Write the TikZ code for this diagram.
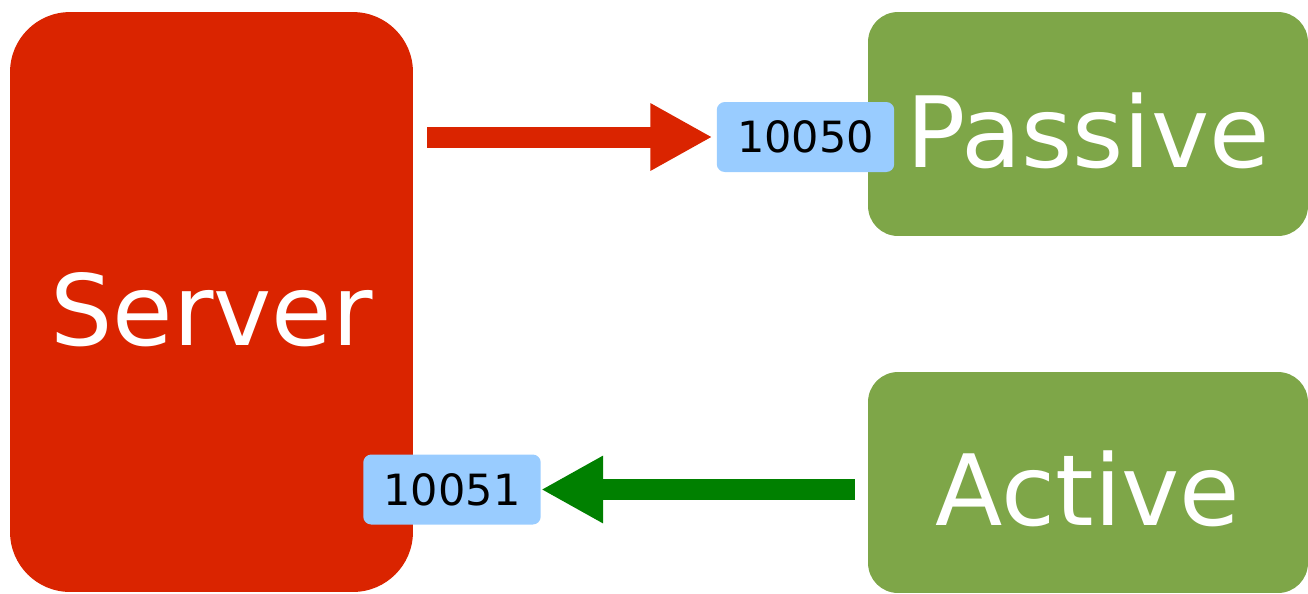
\documentclass[tikz,border=0pt]{standalone}
\usepackage{fontspec}
\setmainfont{DejaVu Sans}
\usepackage{tikz}
\usetikzlibrary{arrows.meta,positioning}
\definecolor{srvred}{HTML}{DA2400}
\definecolor{modgreen}{HTML}{7EA648}
\definecolor{portblue}{HTML}{99CCFF}
\definecolor{arrgreen}{HTML}{008000}

\begin{document}
\begin{tikzpicture}[x=0.02cm,y=-0.02cm,inner sep=0pt]
    \tikzset{box/.style={rectangle,text=white,font=\fontsize{56}{60}\selectfont,
        text height=49pt,text depth=0pt},
      port/.style={fill=portblue,rectangle,rounded corners=0.16cm,minimum width=3.55cm,
        minimum height=1.4cm,font=\fontsize{24.5}{30}\selectfont},
      flow/.style={line width=0.42cm,-{Triangle[length=1.24cm,width=1.26cm]}}}
    \useasboundingbox (0,0) rectangle (1308,593);
    \node[box,fill=srvred,rounded corners=1.2cm,minimum width=8.06cm,minimum height=11.6cm] (server) at (211.5,302) {Server};
    \node[box,fill=modgreen,rounded corners=0.6cm,minimum width=8.8cm,minimum height=4.48cm] (passive) at (1088,124) {Passive};
    \node[box,fill=modgreen,rounded corners=0.6cm,minimum width=8.8cm,minimum height=4.42cm] (active) at (1088,482.5) {Active};
    \node[port] (p10050) at (805.5,137) {10050};
    \node[port] (p10051) at (452,489.5) {10051};
    \path[flow]
    (server.east |- p10050) edge [srvred,shorten <=0.28cm,shorten >=0.08cm] (p10050)
    (active.west |- p10051) edge [arrgreen,shorten <=0.26cm] (p10051)
    ;
  \end{tikzpicture}
\end{document}
